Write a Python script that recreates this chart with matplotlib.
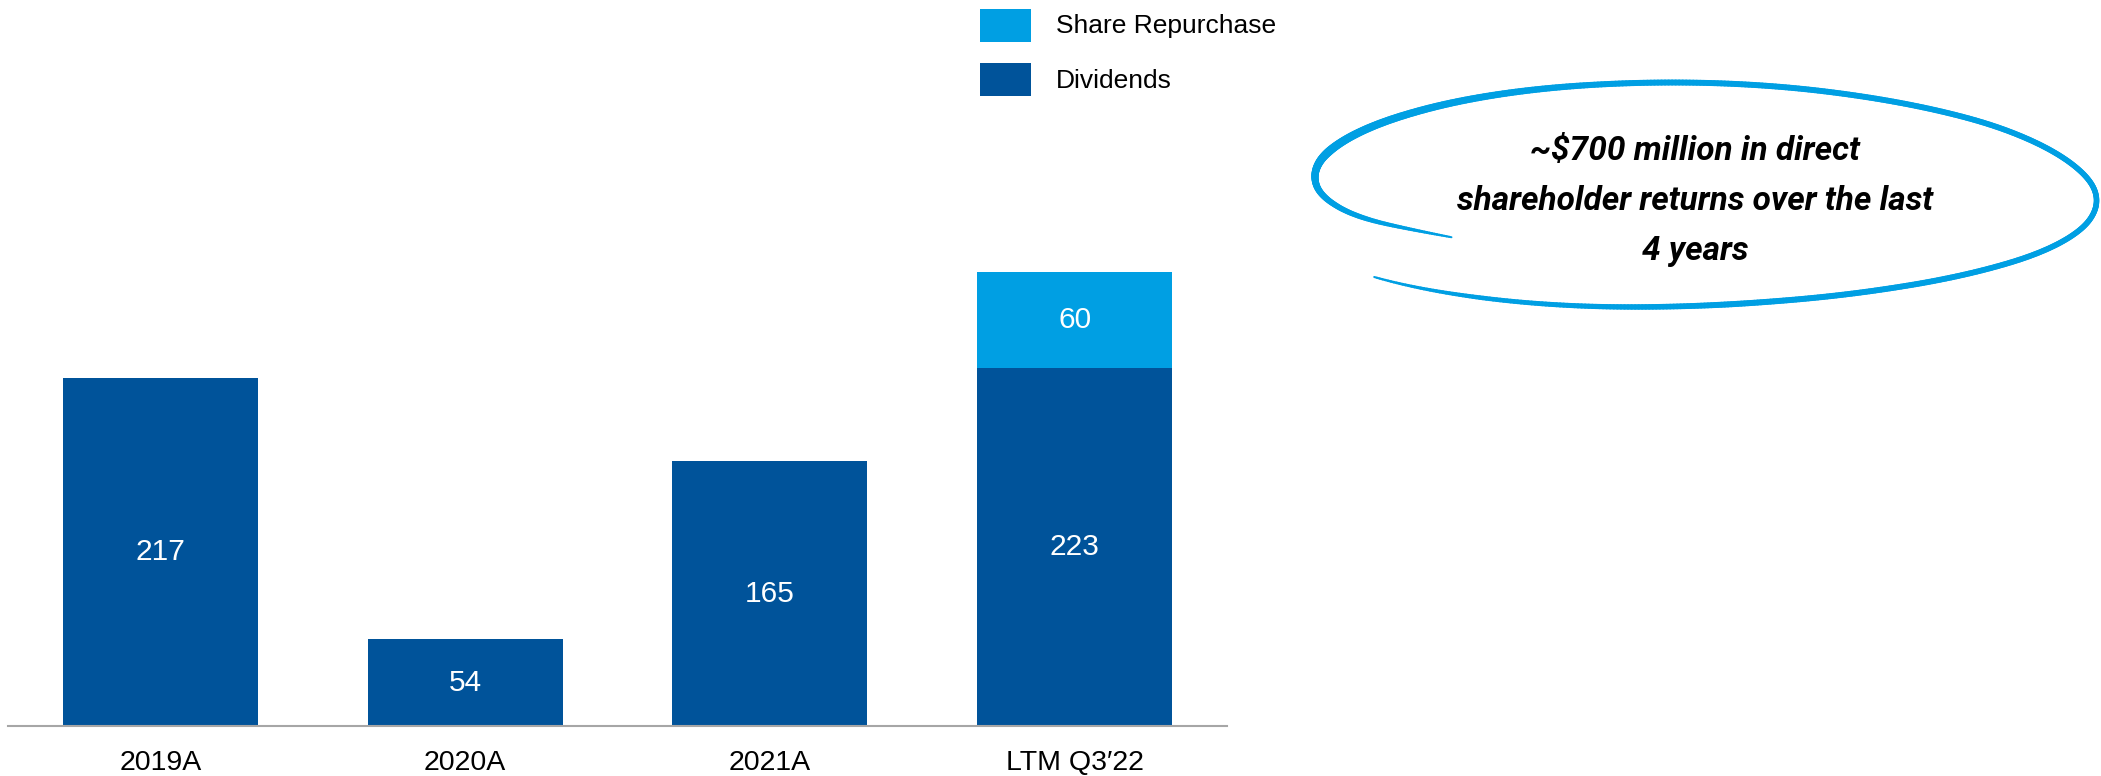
import numpy as np
import matplotlib
matplotlib.use("Agg")
import matplotlib.pyplot as plt
from matplotlib.collections import LineCollection
from matplotlib.patches import Rectangle

# ---- data -------------------------------------------------------------
categories = ["2019A", "2020A", "2021A", "LTM Q3\u203222"]
dividends = [217, 54, 165, 223]
repurchases = [0, 0, 0, 60]
series_names = ["Share Repurchase", "Dividends"]
callout_lines = ["~$700 million in direct",
                 "shareholder returns over the last",
                 "4 years"]

# ---- style ------------------------------------------------------------
DARK = "#00539A"
LIGHT = "#009FE3"
W, H = 2101, 776
DPI = 100
plt.rcParams["font.family"] = ["Liberation Sans", "DejaVu Sans"]

fig = plt.figure(figsize=(W / DPI, H / DPI), dpi=DPI)

# bar panel: baseline at y=726 px, spans x=8..1227 px
base_px = 726
px_per_unit = 1.605
ax = fig.add_axes([8 / W, 1 - base_px / H, (1227 - 8) / W, base_px / H])
ax.set_xlim(-0.5, len(categories) - 0.5)
ax.set_ylim(0, base_px / px_per_unit)

x = np.arange(len(categories))
bw = 0.64
b1 = ax.bar(x, dividends, width=bw, color=DARK, zorder=2)
b2 = ax.bar(x, repurchases, width=bw, bottom=dividends, color=LIGHT, zorder=2)

for xi, d, r in zip(x, dividends, repurchases):
    ax.text(xi, d / 2, f"{d}", ha="center", va="center",
            color="white", fontsize=21.5)
    if r > 0:
        ax.text(xi, d + r / 2, f"{r}", ha="center", va="center",
                color="white", fontsize=21.5)

for s in ["top", "right", "left"]:
    ax.spines[s].set_visible(False)
ax.spines["bottom"].set_color("#A6A6A6")
ax.spines["bottom"].set_linewidth(1.5)
ax.set_yticks([])
ax.set_xticks(x)
ax.set_xticklabels(categories, fontsize=20.5)
ax.tick_params(axis="x", length=0, pad=17, colors="black")

# ---- overlay in pixel coordinates for legend and callout ---------------
ov = fig.add_axes([0, 0, 1, 1], facecolor="none")
ov.set_xlim(0, W)
ov.set_ylim(H, 0)
ov.axis("off")

# legend
for (y0, name, col) in [(9, series_names[0], LIGHT), (63, series_names[1], DARK)]:
    ov.add_patch(Rectangle((980, y0), 51, 33, color=col, lw=0))
    ov.text(1056, y0 + 17.5, name, ha="left", va="center",
            fontsize=19, color="black")

# hand-drawn style ellipse around the callout text
cx, cy, a, b = 1705, 196, 394, 111
knot_t = np.array([150, 161, 173, 189, 210, 240, 270, 300, 335, 365,
                   385, 410, 430, 450, 470, 499], dtype=float)
knot_r = np.array([0.70, 0.85, 0.94, 1.01, 1.05, 1.06, 1.02, 0.97, 0.965,
                   1.0, 1.0, 0.96, 0.95, 0.98, 1.05, 1.12])
t = np.linspace(knot_t[0], knot_t[-1], 700)
r = np.interp(t, knot_t, knot_r)
k = 25
rp = np.concatenate([np.full(k, r[0]), r, np.full(k, r[-1])])
r = np.convolve(rp, np.ones(2 * k + 1) / (2 * k + 1), mode="same")[k:-k]
tr = np.deg2rad(t)
px = cx + a * r * np.cos(tr)
py = cy + b * r * np.sin(tr)
pts = np.column_stack([px, py]).reshape(-1, 1, 2)
segs = np.concatenate([pts[:-1], pts[1:]], axis=1)
frac = (t[:-1] - t[0]) / (t[-1] - t[0])
wid_px = np.interp(frac, [0, 0.05, 0.15, 0.3, 0.6, 0.85, 0.95, 1.0],
                   [2, 5, 8.5, 6, 5.5, 6, 4.5, 2])
lc = LineCollection(segs, colors=LIGHT, linewidths=wid_px * 72 / DPI,
                    capstyle="round")
ov.add_collection(lc)

for i, line in enumerate(callout_lines):
    ov.text(1695, 151 + 50 * i, line, ha="center", va="center",
            fontsize=24, fontstyle="italic", fontweight="bold",
            family=["Roboto", "DejaVu Sans"], color="black")

fig.savefig("out.png", dpi=DPI)
